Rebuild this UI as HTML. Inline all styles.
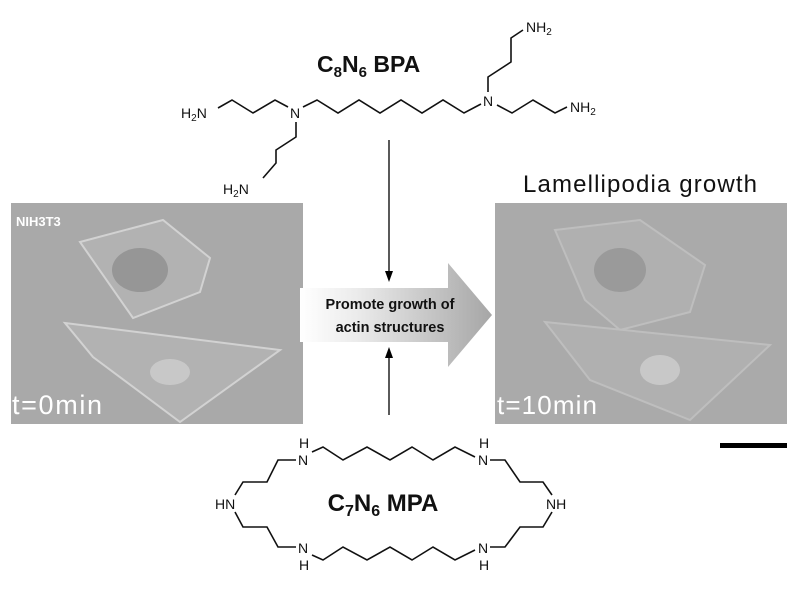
<!DOCTYPE html>
<html><head><meta charset="utf-8"><style>
html,body{margin:0;padding:0;background:#fff;}
svg{display:block;}
text{font-family:"Liberation Sans",sans-serif;}
</style></head><body>
<svg width="800" height="599" viewBox="0 0 800 599" xmlns="http://www.w3.org/2000/svg">
<defs>
<linearGradient id="ag" x1="0" x2="1" y1="0" y2="0">
<stop offset="0" stop-color="#ffffff"/><stop offset="0.3" stop-color="#ebebeb"/><stop offset="1" stop-color="#a6a6a6"/>
</linearGradient>
</defs>
<!-- photos -->
<rect x="11" y="203" width="292" height="221" fill="#a9a9a9"/>
<g fill="#b2b2b2" stroke="#d2d2d2" stroke-width="2">
<polygon points="80,242 163,220 210,258 200,292 133,318"/>
<polygon points="65,323 280,350 180,422 93,357"/>
</g>
<ellipse cx="140" cy="270" rx="28" ry="22" fill="#969696"/>
<ellipse cx="170" cy="372" rx="20" ry="13" fill="#c8c8c8"/>
<text x="16" y="226" font-size="13" font-weight="bold" fill="#fff">NIH3T3</text>
<text x="12" y="414" font-size="27" fill="#fff" textLength="90">t=0min</text>

<rect x="495" y="203" width="292" height="221" fill="#aaaaaa"/>
<g fill="#b0b0b0" stroke="#bebebe" stroke-width="2">
<polygon points="555,230 640,220 705,265 690,312 620,330 585,300"/>
<polygon points="545,322 770,345 690,420 590,380"/>
</g>
<ellipse cx="620" cy="270" rx="26" ry="22" fill="#9a9a9a"/>
<ellipse cx="660" cy="370" rx="20" ry="15" fill="#c8c8c8"/>
<text x="497" y="414" font-size="26" fill="#fff" textLength="100">t=10min</text>
<text x="523" y="192" font-size="24" fill="#111" textLength="234">Lamellipodia growth</text>
<rect x="720" y="443" width="67" height="5" fill="#000"/>

<!-- big arrow -->
<polygon points="300,288 448,288 448,263 492,315 448,367 448,342 300,342" fill="url(#ag)"/>
<text x="390" y="309" font-size="14.5" font-weight="bold" text-anchor="middle" fill="#111">Promote growth of</text>
<text x="390" y="332" font-size="14.5" font-weight="bold" text-anchor="middle" fill="#111">actin structures</text>

<!-- vertical arrows -->
<line x1="389" y1="140" x2="389" y2="272" stroke="#000" stroke-width="1.3"/>
<polygon points="385,271 393,271 389,282" fill="#000"/>
<line x1="389" y1="357" x2="389" y2="415" stroke="#000" stroke-width="1.3"/>
<polygon points="385,358 393,358 389,347" fill="#000"/>

<!-- BPA -->
<text x="317" y="72" font-size="23" font-weight="bold" fill="#111">C<tspan font-size="15" dy="5">8</tspan><tspan dy="-5">N</tspan><tspan font-size="15" dy="5">6</tspan><tspan dy="-5">  BPA</tspan></text>
<g fill="none" stroke="#111" stroke-width="1.6">
<polyline points="218,108 232,100 253,113 275,100 288,107"/>
<polyline points="296,122 296,137 276,150 276,163 263,178"/>
<polyline points="303,107 317,100 338,113 359,100 380,113 401,100 422,113 443,100 464,113 481,104"/>
<polyline points="488,92 488,77 511,62 511,38 523,30"/>
<polyline points="497,105 512,113 533,100 555,113 567,107"/>
</g>
<g font-size="14" fill="#111">
<text x="181" y="118">H<tspan font-size="10" dy="3">2</tspan><tspan dy="-3">N</tspan></text>
<text x="290" y="118">N</text>
<text x="223" y="194">H<tspan font-size="10" dy="3">2</tspan><tspan dy="-3">N</tspan></text>
<text x="483" y="106">N</text>
<text x="526" y="32">NH<tspan font-size="10" dy="3">2</tspan></text>
<text x="570" y="112">NH<tspan font-size="10" dy="3">2</tspan></text>
</g>

<!-- MPA -->
<text x="383" y="511" font-size="24" font-weight="bold" text-anchor="middle" fill="#111">C<tspan font-size="16" dy="5">7</tspan><tspan dy="-5">N</tspan><tspan font-size="16" dy="5">6</tspan><tspan dy="-5">  MPA</tspan></text>
<g fill="none" stroke="#111" stroke-width="1.6">
<polyline points="312,452 323,447 343,460 367,447 390,460 412,447 433,460 455,447 475,457"/>
<polyline points="312,555 323,560 343,547 367,560 390,547 412,560 433,547 455,560 475,550"/>
<polyline points="490,460 505,460 520,482 543,482 552,495"/>
<polyline points="552,512 543,527 520,527 505,547 490,547"/>
<polyline points="296,460 278,460 267,482 243,482 235,495"/>
<polyline points="235,512 243,527 267,527 278,547 296,547"/>
</g>
<g font-size="14" fill="#111">
<text x="298" y="465">N</text><text x="299" y="448">H</text>
<text x="478" y="465">N</text><text x="479" y="448">H</text>
<text x="298" y="553">N</text><text x="299" y="570">H</text>
<text x="478" y="553">N</text><text x="479" y="570">H</text>
<text x="215" y="509">HN</text>
<text x="546" y="509">NH</text>
</g>
</svg>
</body></html>
